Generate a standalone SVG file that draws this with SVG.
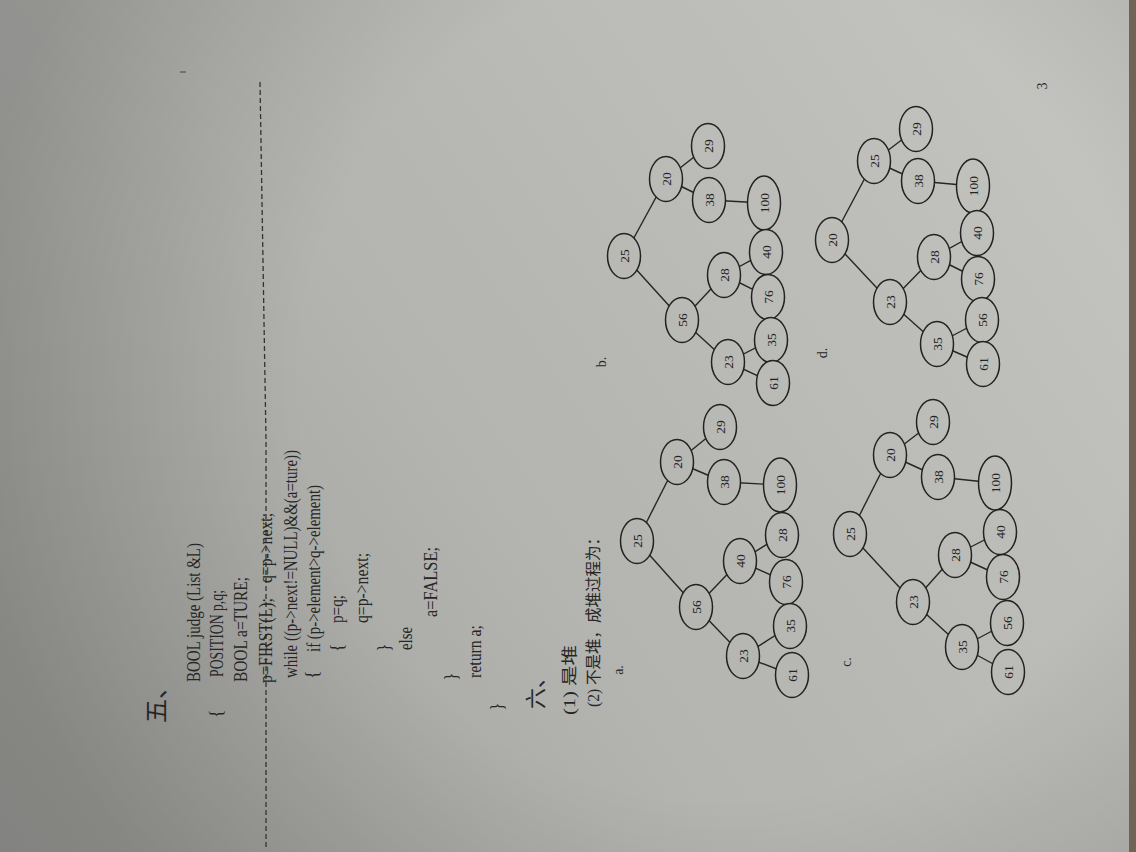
<svg xmlns="http://www.w3.org/2000/svg" width="1136" height="852" viewBox="0 0 1136 852">
  <defs>
    <!-- paper tone; also reused as node fill so connectors stop at the outlines -->
    <linearGradient id="paper" gradientUnits="userSpaceOnUse" x1="0" y1="852" x2="1100" y2="100">
      <stop offset="0" stop-color="#9b9b98"/>
      <stop offset="0.45" stop-color="#b3b3b0"/>
      <stop offset="1" stop-color="#c3c3c0"/>
    </linearGradient>
    <radialGradient id="shade" gradientUnits="userSpaceOnUse" cx="720" cy="380" r="760">
      <stop offset="0.55" stop-color="#000" stop-opacity="0"/>
      <stop offset="1" stop-color="#000" stop-opacity="0.16"/>
    </radialGradient>
    <style>
      .code { font-family: "Liberation Serif", serif; font-size: 18px; fill: #262626; }
      .cjk  { font-family: "Liberation Serif", "Noto Sans CJK SC", serif; fill: #262626; dominant-baseline: central; }
      .lbl  { font-family: "Liberation Serif", serif; font-size: 14px; fill: #262626; text-anchor: middle; dominant-baseline: central; }
      .nd   { fill: url(#paper); stroke: #222; stroke-width: 1.5; }
      .nt   { font-family: "Liberation Serif", serif; font-size: 13.5px; fill: #222; text-anchor: middle; dominant-baseline: central; }
      .edge { stroke: #262626; stroke-width: 1.4; fill: none; }
      .cut  { stroke: #333; stroke-width: 1.3; fill: none; stroke-dasharray: 5 3; }
    </style>
  </defs>

  <!-- page background -->
  <rect x="0" y="0" width="1136" height="852" fill="url(#paper)"/>
  <rect x="0" y="0" width="1136" height="852" fill="url(#shade)"/>
  <rect x="1129" y="0" width="7" height="852" fill="#6f6456"/>
  <line x1="180" y1="72" x2="186" y2="72" stroke="#444" stroke-width="1"/>

  <!-- cut line through section five -->
  <polyline class="cut" points="260,82 266,440 266,850"/>

  <!-- section five: code listing, printed sideways -->
  <g id="section5">
    <text class="cjk" font-size="24" transform="translate(157 723) rotate(-90)">五、</text>
    <text class="code" textLength="139" lengthAdjust="spacingAndGlyphs" transform="translate(200 682) rotate(-90)">BOOL judge (List &amp;L)</text>
    <text class="code" transform="translate(222 718) rotate(-90)">{</text>
    <text class="code" textLength="87" lengthAdjust="spacingAndGlyphs" transform="translate(223 677) rotate(-90)">POSITION p,q;</text>
    <text class="code" textLength="105" lengthAdjust="spacingAndGlyphs" transform="translate(247 682) rotate(-90)">BOOL a=TURE;</text>
    <text class="code" textLength="85" lengthAdjust="spacingAndGlyphs" transform="translate(272 683) rotate(-90)">p=FIRST(L);</text>
    <text class="code" textLength="70" lengthAdjust="spacingAndGlyphs" transform="translate(272 583) rotate(-90)">q=p-&gt;next;</text>
    <text class="code" textLength="228" lengthAdjust="spacingAndGlyphs" transform="translate(297 678) rotate(-90)">while ((p-&gt;next!=NULL)&amp;&amp;(a=ture))</text>
    <text class="code" transform="translate(318 679) rotate(-90)">{</text>
    <text class="code" textLength="167" lengthAdjust="spacingAndGlyphs" transform="translate(320 652) rotate(-90)">if (p-&gt;element&gt;q-&gt;element)</text>
    <text class="code" transform="translate(343 652) rotate(-90)">{</text>
    <text class="code" textLength="28" lengthAdjust="spacingAndGlyphs" transform="translate(343 623) rotate(-90)">p=q;</text>
    <text class="code" textLength="70" lengthAdjust="spacingAndGlyphs" transform="translate(368 623) rotate(-90)">q=p-&gt;next;</text>
    <text class="code" transform="translate(390 652) rotate(-90)">}</text>
    <text class="code" textLength="23" lengthAdjust="spacingAndGlyphs" transform="translate(412 650) rotate(-90)">else</text>
    <text class="code" textLength="70" lengthAdjust="spacingAndGlyphs" transform="translate(437 617) rotate(-90)">a=FALSE;</text>
    <text class="code" transform="translate(457 681) rotate(-90)">}</text>
    <text class="code" textLength="53" lengthAdjust="spacingAndGlyphs" transform="translate(481 678) rotate(-90)">return a;</text>
    <text class="code" transform="translate(503 711) rotate(-90)">}</text>
  </g>

  <!-- section six heading and answers -->
  <g id="section6">
    <text class="cjk" font-size="21" transform="translate(536 709) rotate(-90)">六、</text>
    <text class="cjk" font-size="16" textLength="70" lengthAdjust="spacingAndGlyphs" transform="translate(569 715) rotate(-90)">(1) 是堆</text>
    <text class="cjk" font-size="16" textLength="177" lengthAdjust="spacingAndGlyphs" transform="translate(593 707) rotate(-90)">(2) 不是堆，成堆过程为：</text>
    <text class="lbl" transform="translate(618 670) rotate(-90)">a.</text>
    <text class="lbl" transform="translate(601 362) rotate(-90)">b.</text>
    <text class="lbl" transform="translate(846 662) rotate(-90)">c.</text>
    <text class="lbl" transform="translate(822 353) rotate(-90)">d.</text>
    <text class="lbl" font-size="10" transform="translate(1042 86) rotate(-90)">3</text>
  </g>

  <!-- tree edges -->
  <g id="connectors">
    <!-- a -->
    <line class="edge" x1="637" y1="541" x2="677" y2="462"/>
    <line class="edge" x1="637" y1="541" x2="696" y2="607"/>
    <line class="edge" x1="677" y1="462" x2="720" y2="427"/>
    <line class="edge" x1="677" y1="462" x2="724" y2="482"/>
    <line class="edge" x1="724" y1="482" x2="780" y2="485"/>
    <line class="edge" x1="696" y1="607" x2="743" y2="656"/>
    <line class="edge" x1="696" y1="607" x2="740" y2="561"/>
    <line class="edge" x1="740" y1="561" x2="786" y2="582"/>
    <line class="edge" x1="740" y1="561" x2="782" y2="535"/>
    <line class="edge" x1="743" y1="656" x2="790" y2="626"/>
    <line class="edge" x1="743" y1="656" x2="792" y2="675"/>
    <!-- b -->
    <line class="edge" x1="624" y1="256" x2="666" y2="179"/>
    <line class="edge" x1="624" y1="256" x2="682" y2="320"/>
    <line class="edge" x1="666" y1="179" x2="708" y2="146"/>
    <line class="edge" x1="666" y1="179" x2="709" y2="200"/>
    <line class="edge" x1="709" y1="200" x2="764" y2="203"/>
    <line class="edge" x1="682" y1="320" x2="724" y2="275"/>
    <line class="edge" x1="682" y1="320" x2="728" y2="362"/>
    <line class="edge" x1="724" y1="275" x2="766" y2="252"/>
    <line class="edge" x1="724" y1="275" x2="768" y2="297"/>
    <line class="edge" x1="728" y1="362" x2="771" y2="340"/>
    <line class="edge" x1="728" y1="362" x2="773" y2="383"/>
    <!-- c -->
    <line class="edge" x1="850" y1="534" x2="890" y2="455"/>
    <line class="edge" x1="850" y1="534" x2="913" y2="602"/>
    <line class="edge" x1="890" y1="455" x2="933" y2="422"/>
    <line class="edge" x1="890" y1="455" x2="938" y2="477"/>
    <line class="edge" x1="938" y1="477" x2="995" y2="483"/>
    <line class="edge" x1="913" y1="602" x2="955" y2="555"/>
    <line class="edge" x1="913" y1="602" x2="962" y2="647"/>
    <line class="edge" x1="955" y1="555" x2="1000" y2="532"/>
    <line class="edge" x1="955" y1="555" x2="1003" y2="577"/>
    <line class="edge" x1="962" y1="647" x2="1007" y2="623"/>
    <line class="edge" x1="962" y1="647" x2="1008" y2="672"/>
    <!-- d -->
    <line class="edge" x1="832" y1="240" x2="874" y2="161"/>
    <line class="edge" x1="832" y1="240" x2="890" y2="302"/>
    <line class="edge" x1="874" y1="161" x2="916" y2="129"/>
    <line class="edge" x1="874" y1="161" x2="918" y2="181"/>
    <line class="edge" x1="918" y1="181" x2="973" y2="186"/>
    <line class="edge" x1="890" y1="302" x2="934" y2="257"/>
    <line class="edge" x1="890" y1="302" x2="937" y2="344"/>
    <line class="edge" x1="934" y1="257" x2="977" y2="233"/>
    <line class="edge" x1="934" y1="257" x2="978" y2="279"/>
    <line class="edge" x1="937" y1="344" x2="982" y2="320"/>
    <line class="edge" x1="937" y1="344" x2="983" y2="364"/>
  </g>

  <!-- tree a -->
  <g id="a-25"><ellipse class="nd" cx="637" cy="541" rx="16.5" ry="22.5"/><text class="nt" transform="translate(637 541) rotate(-90)">25</text></g>
  <g id="a-20"><ellipse class="nd" cx="677" cy="462" rx="16.5" ry="22.5"/><text class="nt" transform="translate(677 462) rotate(-90)">20</text></g>
  <g id="a-29"><ellipse class="nd" cx="720" cy="427" rx="16.5" ry="22.5"/><text class="nt" transform="translate(720 427) rotate(-90)">29</text></g>
  <g id="a-38"><ellipse class="nd" cx="724" cy="482" rx="16.5" ry="22.5"/><text class="nt" transform="translate(724 482) rotate(-90)">38</text></g>
  <g id="a-100"><ellipse class="nd" cx="780" cy="485" rx="16.5" ry="27"/><text class="nt" transform="translate(780 485) rotate(-90)">100</text></g>
  <g id="a-56"><ellipse class="nd" cx="696" cy="607" rx="16.5" ry="22.5"/><text class="nt" transform="translate(696 607) rotate(-90)">56</text></g>
  <g id="a-40"><ellipse class="nd" cx="740" cy="561" rx="16.5" ry="22.5"/><text class="nt" transform="translate(740 561) rotate(-90)">40</text></g>
  <g id="a-28"><ellipse class="nd" cx="782" cy="535" rx="16.5" ry="22.5"/><text class="nt" transform="translate(782 535) rotate(-90)">28</text></g>
  <g id="a-76"><ellipse class="nd" cx="786" cy="582" rx="16.5" ry="22.5"/><text class="nt" transform="translate(786 582) rotate(-90)">76</text></g>
  <g id="a-35"><ellipse class="nd" cx="790" cy="626" rx="16.5" ry="22.5"/><text class="nt" transform="translate(790 626) rotate(-90)">35</text></g>
  <g id="a-23"><ellipse class="nd" cx="743" cy="656" rx="16.5" ry="22.5"/><text class="nt" transform="translate(743 656) rotate(-90)">23</text></g>
  <g id="a-61"><ellipse class="nd" cx="792" cy="675" rx="16.5" ry="22.5"/><text class="nt" transform="translate(792 675) rotate(-90)">61</text></g>

  <!-- tree b -->
  <g id="b-25"><ellipse class="nd" cx="624" cy="256" rx="16.5" ry="22.5"/><text class="nt" transform="translate(624 256) rotate(-90)">25</text></g>
  <g id="b-20"><ellipse class="nd" cx="666" cy="179" rx="16.5" ry="22.5"/><text class="nt" transform="translate(666 179) rotate(-90)">20</text></g>
  <g id="b-29"><ellipse class="nd" cx="708" cy="146" rx="16.5" ry="22.5"/><text class="nt" transform="translate(708 146) rotate(-90)">29</text></g>
  <g id="b-38"><ellipse class="nd" cx="709" cy="200" rx="16.5" ry="22.5"/><text class="nt" transform="translate(709 200) rotate(-90)">38</text></g>
  <g id="b-100"><ellipse class="nd" cx="764" cy="203" rx="16.5" ry="27"/><text class="nt" transform="translate(764 203) rotate(-90)">100</text></g>
  <g id="b-56"><ellipse class="nd" cx="682" cy="320" rx="16.5" ry="22.5"/><text class="nt" transform="translate(682 320) rotate(-90)">56</text></g>
  <g id="b-28"><ellipse class="nd" cx="724" cy="275" rx="16.5" ry="22.5"/><text class="nt" transform="translate(724 275) rotate(-90)">28</text></g>
  <g id="b-40"><ellipse class="nd" cx="766" cy="252" rx="16.5" ry="22.5"/><text class="nt" transform="translate(766 252) rotate(-90)">40</text></g>
  <g id="b-76"><ellipse class="nd" cx="768" cy="297" rx="16.5" ry="22.5"/><text class="nt" transform="translate(768 297) rotate(-90)">76</text></g>
  <g id="b-35"><ellipse class="nd" cx="771" cy="340" rx="16.5" ry="22.5"/><text class="nt" transform="translate(771 340) rotate(-90)">35</text></g>
  <g id="b-23"><ellipse class="nd" cx="728" cy="362" rx="16.5" ry="22.5"/><text class="nt" transform="translate(728 362) rotate(-90)">23</text></g>
  <g id="b-61"><ellipse class="nd" cx="773" cy="383" rx="16.5" ry="22.5"/><text class="nt" transform="translate(773 383) rotate(-90)">61</text></g>

  <!-- tree c -->
  <g id="c-25"><ellipse class="nd" cx="850" cy="534" rx="16.5" ry="22.5"/><text class="nt" transform="translate(850 534) rotate(-90)">25</text></g>
  <g id="c-20"><ellipse class="nd" cx="890" cy="455" rx="16.5" ry="22.5"/><text class="nt" transform="translate(890 455) rotate(-90)">20</text></g>
  <g id="c-29"><ellipse class="nd" cx="933" cy="422" rx="16.5" ry="22.5"/><text class="nt" transform="translate(933 422) rotate(-90)">29</text></g>
  <g id="c-38"><ellipse class="nd" cx="938" cy="477" rx="16.5" ry="22.5"/><text class="nt" transform="translate(938 477) rotate(-90)">38</text></g>
  <g id="c-100"><ellipse class="nd" cx="995" cy="483" rx="16.5" ry="27"/><text class="nt" transform="translate(995 483) rotate(-90)">100</text></g>
  <g id="c-23"><ellipse class="nd" cx="913" cy="602" rx="16.5" ry="22.5"/><text class="nt" transform="translate(913 602) rotate(-90)">23</text></g>
  <g id="c-28"><ellipse class="nd" cx="955" cy="555" rx="16.5" ry="22.5"/><text class="nt" transform="translate(955 555) rotate(-90)">28</text></g>
  <g id="c-40"><ellipse class="nd" cx="1000" cy="532" rx="16.5" ry="22.5"/><text class="nt" transform="translate(1000 532) rotate(-90)">40</text></g>
  <g id="c-76"><ellipse class="nd" cx="1003" cy="577" rx="16.5" ry="22.5"/><text class="nt" transform="translate(1003 577) rotate(-90)">76</text></g>
  <g id="c-56"><ellipse class="nd" cx="1007" cy="623" rx="16.5" ry="22.5"/><text class="nt" transform="translate(1007 623) rotate(-90)">56</text></g>
  <g id="c-35"><ellipse class="nd" cx="962" cy="647" rx="16.5" ry="22.5"/><text class="nt" transform="translate(962 647) rotate(-90)">35</text></g>
  <g id="c-61"><ellipse class="nd" cx="1008" cy="672" rx="16.5" ry="22.5"/><text class="nt" transform="translate(1008 672) rotate(-90)">61</text></g>

  <!-- tree d -->
  <g id="d-20"><ellipse class="nd" cx="832" cy="240" rx="16.5" ry="22.5"/><text class="nt" transform="translate(832 240) rotate(-90)">20</text></g>
  <g id="d-25"><ellipse class="nd" cx="874" cy="161" rx="16.5" ry="22.5"/><text class="nt" transform="translate(874 161) rotate(-90)">25</text></g>
  <g id="d-29"><ellipse class="nd" cx="916" cy="129" rx="16.5" ry="22.5"/><text class="nt" transform="translate(916 129) rotate(-90)">29</text></g>
  <g id="d-38"><ellipse class="nd" cx="918" cy="181" rx="16.5" ry="22.5"/><text class="nt" transform="translate(918 181) rotate(-90)">38</text></g>
  <g id="d-100"><ellipse class="nd" cx="973" cy="186" rx="16.5" ry="27"/><text class="nt" transform="translate(973 186) rotate(-90)">100</text></g>
  <g id="d-23"><ellipse class="nd" cx="890" cy="302" rx="16.5" ry="22.5"/><text class="nt" transform="translate(890 302) rotate(-90)">23</text></g>
  <g id="d-28"><ellipse class="nd" cx="934" cy="257" rx="16.5" ry="22.5"/><text class="nt" transform="translate(934 257) rotate(-90)">28</text></g>
  <g id="d-40"><ellipse class="nd" cx="977" cy="233" rx="16.5" ry="22.5"/><text class="nt" transform="translate(977 233) rotate(-90)">40</text></g>
  <g id="d-76"><ellipse class="nd" cx="978" cy="279" rx="16.5" ry="22.5"/><text class="nt" transform="translate(978 279) rotate(-90)">76</text></g>
  <g id="d-56"><ellipse class="nd" cx="982" cy="320" rx="16.5" ry="22.5"/><text class="nt" transform="translate(982 320) rotate(-90)">56</text></g>
  <g id="d-35"><ellipse class="nd" cx="937" cy="344" rx="16.5" ry="22.5"/><text class="nt" transform="translate(937 344) rotate(-90)">35</text></g>
  <g id="d-61"><ellipse class="nd" cx="983" cy="364" rx="16.5" ry="22.5"/><text class="nt" transform="translate(983 364) rotate(-90)">61</text></g>
</svg>
